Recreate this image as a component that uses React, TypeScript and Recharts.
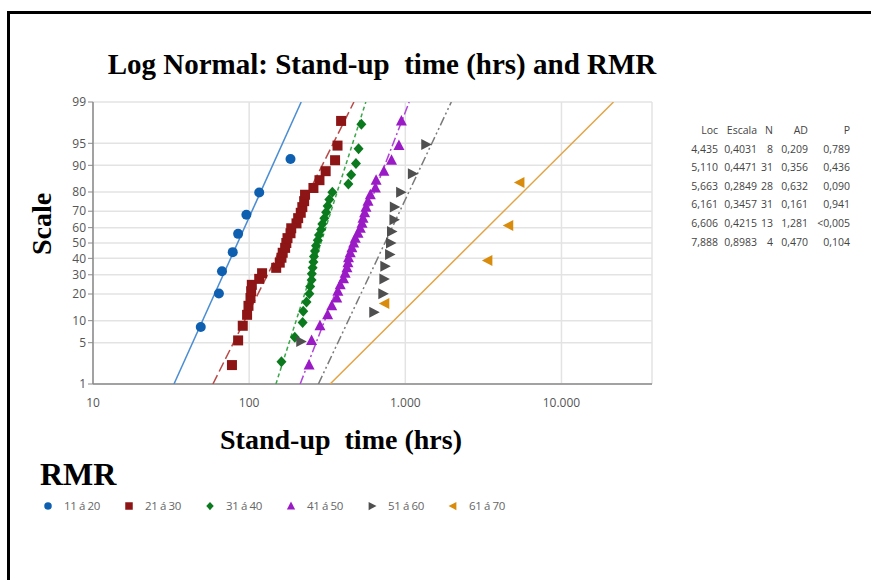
import React from "react";
import { ScatterChart, Scatter, XAxis, YAxis, CartesianGrid } from "recharts";

// RMR classes
const groups = ["11 á 20", "21 á 30", "31 á 40", "41 á 50", "51 á 60", "61 á 70"];

// probability-plot points: stand-up time (hrs) and plotting position (%)
const g1Time = [49, 64, 67, 78.5, 85, 96, 116, 184];
const g1Pct = [8.3, 20.2, 32.1, 44.0, 56.0, 67.9, 79.8, 91.7];

const g2Time = [
  77.6, 85, 91, 97, 99, 102, 103, 104, 116, 121, 149, 157, 161, 164, 170, 173,
  176, 184, 186, 201, 206, 214, 219, 225, 228, 258, 282, 309, 355, 368, 388,
];
const g2Pct = [
  2.2, 5.4, 8.6, 11.8, 15.0, 18.2, 21.3, 24.5, 27.7, 30.9, 34.1, 37.3, 40.4, 43.6,
  46.8, 50.0, 53.2, 56.4, 59.6, 62.7, 65.9, 69.1, 72.3, 75.5, 78.7, 81.8, 85.0,
  88.2, 91.4, 94.6, 97.8,
];

const g3Time = [
  161, 196, 220, 222, 233, 243, 246, 251, 252, 255, 258, 260, 264, 268, 275, 280,
  289, 294, 303, 311, 318, 326, 341, 432, 450, 483, 502, 523,
];
const g3Pct = [
  2.5, 6.0, 9.5, 13.0, 16.5, 20.1, 23.6, 27.1, 30.6, 34.2, 37.7, 41.2, 44.7, 48.2,
  51.8, 55.3, 58.8, 62.3, 65.8, 69.4, 72.9, 76.4, 79.9, 83.5, 87.0, 90.5, 94.0, 97.5,
];

const g4Time = [
  242, 251, 284, 318, 338, 364, 370, 383, 402, 412, 423, 429, 433, 444, 455, 467,
  478, 498, 515, 528, 536, 549, 560, 577, 597, 643, 650, 729, 816, 910, 944,
];
const g4Pct = g2Pct;

const g5Time = [214, 628, 718, 729, 739, 793, 804, 816, 846, 850, 933, 1110, 1352];
const g5Pct = [5.2, 12.7, 20.1, 27.6, 35.1, 42.5, 50.0, 57.5, 64.9, 72.4, 79.9, 87.3, 94.8];

const g6Time = [739, 3380, 4595, 5420];
const g6Pct = [15.9, 38.6, 61.4, 84.1];

// fitted lines: time at 1 % and at 99 %
const fitLow = [33.0, 58.6, 148.4, 212.1, 277.5, 329.9];
const fitHigh = [215.4, 468.7, 558.8, 1059, 1971, 21540];

// table
const locCol = ["4,435", "5,110", "5,663", "6,161", "6,606", "7,888"];
const escalaCol = ["0,4031", "0,4471", "0,2849", "0,3457", "0,4215", "0,8983"];
const nCol = ["8", "31", "28", "31", "13", "4"];
const adCol = ["0,209", "0,356", "0,632", "0,161", "1,281", "0,470"];
const pCol = ["0,789", "0,436", "0,090", "0,941", "<0,005", "0,104"];

const yTicks = [1, 5, 10, 20, 30, 40, 50, 60, 70, 80, 90, 95, 99];
const xTicks = [10, 100, 1000, 10000];

const markerColors = ["#0f5fb0", "#8e1515", "#0b7a1e", "#9a1bc6", "#4f4f4f", "#d98c0c"];
const lineColors = ["#4a8dd2", "#b84a48", "#3aa84a", "#b044d8", "#7a7a7a", "#e3a445"];
const dashes = ["", "10 4", "4 3", "9 3 2 3", "9 3 2 3 2 3", ""];
const kinds = ["circle", "square", "diamond", "up", "right", "left"];

// inverse standard normal (Acklam)
function probit(p: number): number {
  const a = [-39.69683028665376, 220.9460984245205, -275.9285104469687, 138.357751867269, -30.66479806614716, 2.506628277459239];
  const b = [-54.47609879822406, 161.5858368580409, -155.6989798598866, 66.80131188771972, -13.28068155288572];
  const c = [-0.007784894002430293, -0.3223964580411365, -2.400758277161838, -2.549732539343734, 4.374664141464968, 2.938163982698783];
  const d = [0.007784695709041462, 0.3224671290700398, 2.445134137142996, 3.754408661907416];
  const pl = 0.02425;
  if (p < pl) {
    const q = Math.sqrt(-2 * Math.log(p));
    return (((((c[0] * q + c[1]) * q + c[2]) * q + c[3]) * q + c[4]) * q + c[5]) / ((((d[0] * q + d[1]) * q + d[2]) * q + d[3]) * q + 1);
  }
  if (p > 1 - pl) {
    const q = Math.sqrt(-2 * Math.log(1 - p));
    return -(((((c[0] * q + c[1]) * q + c[2]) * q + c[3]) * q + c[4]) * q + c[5]) / ((((d[0] * q + d[1]) * q + d[2]) * q + d[3]) * q + 1);
  }
  const q = p - 0.5;
  const r = q * q;
  return ((((((a[0] * r + a[1]) * r + a[2]) * r + a[3]) * r + a[4]) * r + a[5]) * q) / (((((b[0] * r + b[1]) * r + b[2]) * r + b[3]) * r + b[4]) * r + 1);
}

const times = [g1Time, g2Time, g3Time, g4Time, g5Time, g6Time];
const pcts = [g1Pct, g2Pct, g3Pct, g4Pct, g5Pct, g6Pct];
const pointSets = times.map((t, i) => t.map((x, j) => ({ x, z: probit(pcts[i][j] / 100) })));

const yTickZ = yTicks.map((p) => probit(p / 100));
const zLow = yTickZ[0];
const zHigh = yTickZ[yTickZ.length - 1];
const fitSets = fitLow.map((lo, i) => [
  { x: lo, z: zLow },
  { x: fitHigh[i], z: zHigh },
]);

function markerPath(kind: string, cx: number, cy: number, color: string, s = 1) {
  switch (kind) {
    case "circle":
      return <circle cx={cx} cy={cy} r={5 * s} fill={color} />;
    case "square":
      return <rect x={cx - 5 * s} y={cy - 5 * s} width={10 * s} height={10 * s} fill={color} />;
    case "diamond":
      return <polygon points={`${cx},${cy - 5.5 * s} ${cx + 5 * s},${cy} ${cx},${cy + 5.5 * s} ${cx - 5 * s},${cy}`} fill={color} />;
    case "up":
      return <polygon points={`${cx},${cy - 6 * s} ${cx + 5.5 * s},${cy + 4.5 * s} ${cx - 5.5 * s},${cy + 4.5 * s}`} fill={color} />;
    case "right":
      return <polygon points={`${cx - 4.5 * s},${cy - 5.5 * s} ${cx + 6 * s},${cy} ${cx - 4.5 * s},${cy + 5.5 * s}`} fill={color} />;
    default:
      return <polygon points={`${cx + 4.5 * s},${cy - 5.5 * s} ${cx - 6 * s},${cy} ${cx + 4.5 * s},${cy + 5.5 * s}`} fill={color} />;
  }
}

const makeShape = (kind: string, color: string) => (props: any) => {
  const { cx, cy } = props;
  if (cx == null || cy == null) return <g />;
  return markerPath(kind, cx, cy, color);
};

const fmtX = (v: number) => String(v).replace(/\B(?=(\d{3})+(?!\d))/g, ".");
const fmtY = (v: number) => {
  const i = yTickZ.findIndex((t) => Math.abs(t - v) < 1e-6);
  return i >= 0 ? String(yTicks[i]) : "";
};

const serif = "'Liberation Serif', 'Times New Roman', serif";
const sans = "'Open Sans', 'Noto Sans', sans-serif";
const tickStyle = { fontSize: 12, fill: "#555", fontFamily: sans };

export default function App() {
  return (
    <div style={{ position: "absolute", left: 0, top: 0, width: 871, height: 580, background: "#fff", overflow: "hidden" }}>
      {/* frame */}
      <div style={{ position: "absolute", left: 7, top: 11, width: 870, height: 580, borderTop: "3px solid #000", borderLeft: "3px solid #000" }} />

      <div style={{ position: "absolute", left: 382, top: 48, transform: "translateX(-50%)", whiteSpace: "nowrap", fontFamily: serif, fontWeight: "bold", fontSize: 29 }}>
        Log Normal: Stand-up&nbsp; time (hrs) and RMR
      </div>

      <div style={{ position: "absolute", left: 42, top: 224, transform: "translate(-50%, -50%) rotate(-90deg)", whiteSpace: "nowrap", fontFamily: serif, fontWeight: "bold", fontSize: 28 }}>
        Scale
      </div>

      <div style={{ position: "absolute", left: 0, top: 0 }}>
        <ScatterChart width={660} height={420} margin={{ top: 102, right: 8, bottom: 6, left: 38 }}>
          <CartesianGrid stroke="#e3e3e3" strokeWidth={1.5} />
          <XAxis
            type="number"
            dataKey="x"
            scale="log"
            domain={[10, 38000]}
            ticks={xTicks}
            allowDataOverflow
            tickFormatter={fmtX}
            tick={tickStyle}
            tickLine={false}
            axisLine={{ stroke: "#8a8a8a", strokeWidth: 1.5 }}
            tickMargin={8}
            height={30}
            interval={0}
          />
          <YAxis
            type="number"
            dataKey="z"
            domain={[zLow, zHigh]}
            ticks={yTickZ}
            allowDataOverflow
            tickFormatter={fmtY}
            tick={tickStyle}
            tickSize={5}
            tickLine={{ stroke: "#8a8a8a" }}
            axisLine={{ stroke: "#8a8a8a", strokeWidth: 1.5 }}
            width={55}
            interval={0}
          />
          {fitSets.map((d, i) => (
            <Scatter
              key={"fit" + i}
              data={d}
              isAnimationActive={false}
              shape={() => <g />}
              line={{ stroke: lineColors[i], strokeWidth: 1.5, strokeDasharray: dashes[i] || undefined }}
            />
          ))}
          {pointSets.map((d, i) => (
            <Scatter key={"pts" + i} data={d} isAnimationActive={false} shape={makeShape(kinds[i], markerColors[i])} />
          ))}
        </ScatterChart>
      </div>

      <div style={{ position: "absolute", left: 341, top: 440, transform: "translate(-50%, -50%)", whiteSpace: "nowrap", fontFamily: serif, fontWeight: "bold", fontSize: 28 }}>
        Stand-up&nbsp; time (hrs)
      </div>

      <div style={{ position: "absolute", left: 40, top: 474, transform: "translateY(-50%)", whiteSpace: "nowrap", fontFamily: serif, fontWeight: "bold", fontSize: 32 }}>
        RMR
      </div>

      {/* legend */}
      {groups.map((g, i) => (
        <div key={g} style={{ position: "absolute", left: 42 + i * 81, top: 498, display: "flex", alignItems: "center", whiteSpace: "nowrap" }}>
          <svg width={14} height={14}>{markerPath(kinds[i], 6, 7, markerColors[i], 0.75)}</svg>
          <span style={{ marginLeft: 8, fontFamily: sans, fontSize: 11.5, color: "#666", letterSpacing: -0.4 }}>{g}</span>
        </div>
      ))}

      {/* statistics table */}
      {[["Loc", "Escala", "N", "AD", "P"], ...locCol.map((l, i) => [l, escalaCol[i], nCol[i], adCol[i], pCol[i]])].map((row, r) => (
        <div key={r} style={{ position: "absolute", left: 0, top: 123 + r * 18.6, height: 16, fontFamily: sans, fontSize: 10.5, color: "#444" }}>
          {row.map((cell, c) => (
            <span key={c} style={{ position: "absolute", right: -[718, 757, 773, 808, 850][c], whiteSpace: "nowrap" }}>{cell}</span>
          ))}
        </div>
      ))}
    </div>
  );
}
